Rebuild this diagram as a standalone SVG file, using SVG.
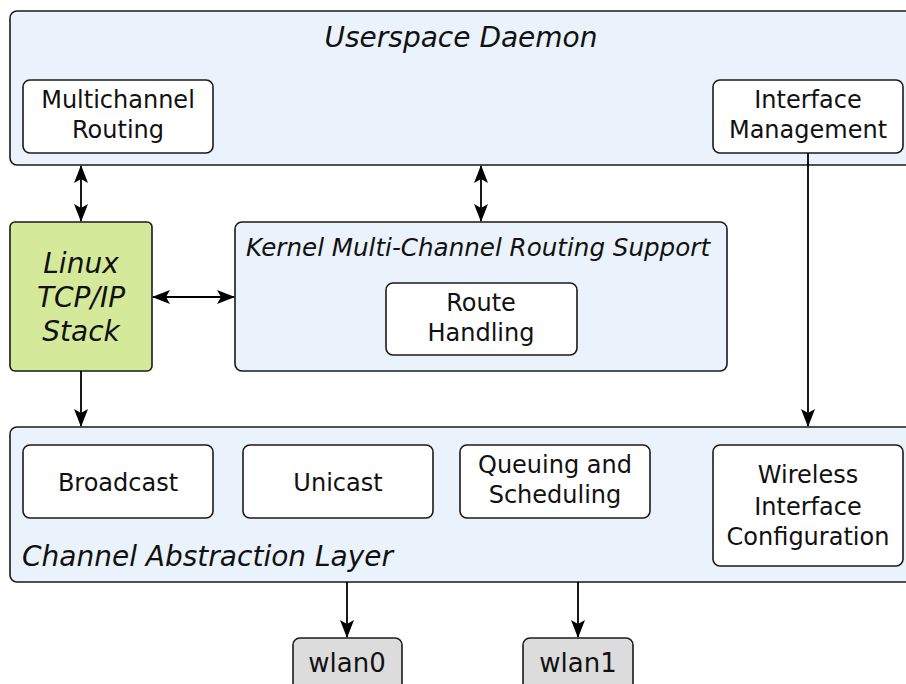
<svg xmlns="http://www.w3.org/2000/svg" width="906" height="684" viewBox="0 0 906 684">
<defs>
<style>
.c{fill:#eaf2fb;stroke:#1a1a1a;stroke-width:1.6}
.b{fill:#ffffff;stroke:#1a1a1a;stroke-width:1.6}
.g{fill:#d5e99b;stroke:#1a1a1a;stroke-width:1.6}
.w{fill:#dcdcdc;stroke:#1a1a1a;stroke-width:1.6}
text{font-family:"DejaVu Sans",sans-serif;fill:#111;text-anchor:middle}
.t{font-size:24px}
.i{font-style:italic}
.e{stroke:#000;stroke-width:1.8;fill:none}
</style>
<marker id="ah" viewBox="0 0 18 14" refX="17" refY="7" markerWidth="18" markerHeight="14" markerUnits="userSpaceOnUse" orient="auto-start-reverse">
<path d="M0,0 L18,7 L0,14 L4,7 z" fill="#000"/>
</marker>
</defs>
<g id="userspace">
<rect class="c" x="10" y="11" width="910" height="154" rx="7"/>
<text class="i" x="461" y="47" font-size="28">Userspace Daemon</text>
</g>
<g id="multichannel">
<rect class="b" x="23" y="80" width="190" height="73" rx="7"/>
<text class="t" x="118" y="108">Multichannel</text>
<text class="t" x="118" y="138">Routing</text>
</g>
<g id="ifmgmt">
<rect class="b" x="713" y="80" width="190" height="73" rx="7"/>
<text class="t" x="808" y="108">Interface</text>
<text class="t" x="808" y="138">Management</text>
</g>
<g id="linux">
<rect class="g" x="10" y="222" width="142" height="149" rx="5"/>
<text class="i" x="81" y="273" font-size="28">Linux</text>
<text class="i" x="81" y="307" font-size="28">TCP/IP</text>
<text class="i" x="81" y="341" font-size="28">Stack</text>
</g>
<g id="kernel">
<rect class="c" x="235" y="222" width="492" height="149" rx="7"/>
<text class="i" x="478" y="256" font-size="24.6">Kernel Multi-Channel Routing Support</text>
</g>
<g id="route">
<rect class="b" x="386" y="283" width="191" height="72" rx="7"/>
<text class="t" x="481" y="311">Route</text>
<text class="t" x="481" y="341">Handling</text>
</g>
<g id="cal">
<rect class="c" x="10" y="427" width="910" height="155" rx="7"/>
<text class="i" x="22" y="566" font-size="28" style="text-anchor:start">Channel Abstraction Layer</text>
</g>
<g id="broadcast">
<rect class="b" x="23" y="445" width="190" height="73" rx="7"/>
<text class="t" x="118" y="491">Broadcast</text>
</g>
<g id="unicast">
<rect class="b" x="243" y="445" width="190" height="73" rx="7"/>
<text class="t" x="338" y="491">Unicast</text>
</g>
<g id="queuing">
<rect class="b" x="460" y="445" width="190" height="73" rx="7"/>
<text class="t" x="555" y="473">Queuing and</text>
<text class="t" x="555" y="503">Scheduling</text>
</g>
<g id="wireless">
<rect class="b" x="713" y="445" width="190" height="121" rx="7"/>
<text class="t" x="808" y="483">Wireless</text>
<text class="t" x="808" y="515">Interface</text>
<text class="t" x="808" y="545">Configuration</text>
</g>
<g id="wlan0">
<rect class="w" x="293" y="638" width="109" height="56" rx="7"/>
<text x="347" y="672" font-size="26">wlan0</text>
</g>
<g id="wlan1">
<rect class="w" x="523" y="638" width="110" height="56" rx="7"/>
<text x="578" y="672" font-size="26">wlan1</text>
</g>
<g id="connectors">
<line class="e" x1="81" y1="166" x2="81" y2="221" marker-start="url(#ah)" marker-end="url(#ah)"/>
<line class="e" x1="481" y1="166" x2="481" y2="221" marker-start="url(#ah)" marker-end="url(#ah)"/>
<line class="e" x1="153" y1="297" x2="234" y2="297" marker-start="url(#ah)" marker-end="url(#ah)"/>
<line class="e" x1="808" y1="153" x2="808" y2="426" marker-end="url(#ah)"/>
<line class="e" x1="81" y1="371" x2="81" y2="426" marker-end="url(#ah)"/>
<line class="e" x1="347" y1="582" x2="347" y2="637" marker-end="url(#ah)"/>
<line class="e" x1="578" y1="582" x2="578" y2="637" marker-end="url(#ah)"/>
</g>
</svg>
